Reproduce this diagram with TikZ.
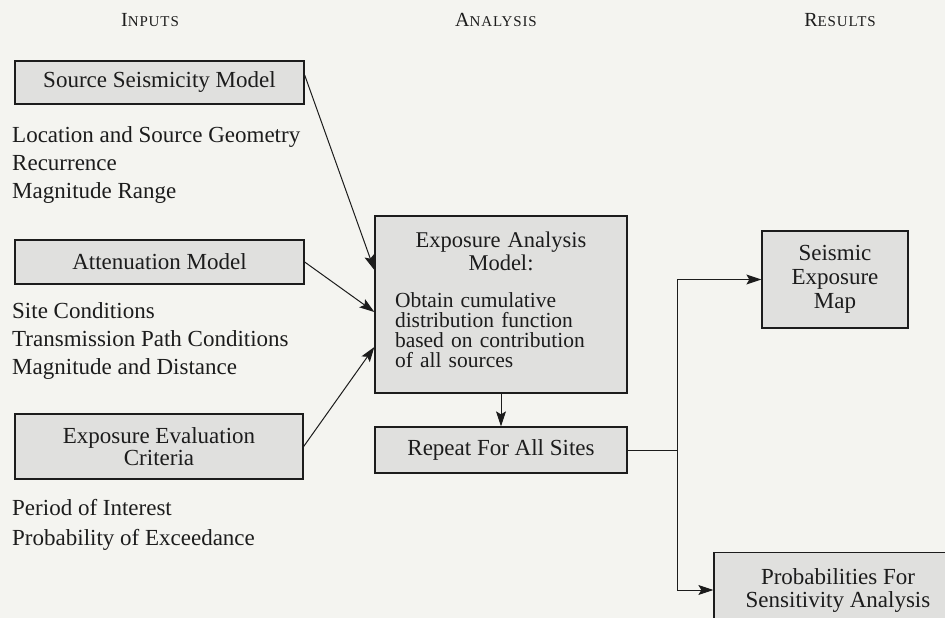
\documentclass[tikz,border=0pt]{standalone}
\usepackage{fontspec}
\setmainfont{Liberation Serif}
\usepackage{xcolor}
\usetikzlibrary{arrows.meta}
\usetikzlibrary{positioning}

\definecolor{paper}{HTML}{F4F4F0}
\definecolor{boxgray}{HTML}{E0E0DE}
\definecolor{ink}{HTML}{1C1C1C}
\newcommand{\headcaps}[2]{{\fontsize{20}{24}\selectfont #1}{\addfontfeatures{LetterSpace=6}\fontsize{15}{18}\selectfont #2}}

\begin{document}
\begin{tikzpicture}[
  x=1pt, y=-1pt,
  every node/.style={text=ink, font=\fontsize{23}{28}\selectfont},
  stage/.style={draw=ink, line width=1.3pt, fill=boxgray, align=center, inner sep=0pt},
  listing/.style={anchor=west, align=left, inner sep=0pt},
  heading/.style={inner sep=0pt},
  flow/.style={draw=ink, line width=1pt, -{Stealth[length=15pt,width=10pt,inset=3pt]}}
]
\useasboundingbox (0,0) rectangle (945,618);
\fill[paper] (0,0) rectangle (945,618);
\clip (0,0) rectangle (945,618);

% column headings
\node[heading] (hin) at (150,20) {\headcaps{I}{NPUTS}};
\node[heading] (han) at (496,20) {\headcaps{A}{NALYSIS}};
\node[heading] (hre) at (840,20) {\headcaps{R}{ESULTS}};

% inputs
\node[stage, minimum width=289pt, minimum height=43pt] (src) at (159.5,82.5) {Source Seismicity Model};
\node[listing] (srclist) at (12,165) {Location and Source Geometry\\Recurrence\\Magnitude Range};
\node[stage, minimum width=289pt, minimum height=44pt] (att) at (159.5,262) {Attenuation Model};
\node[listing] (attlist) at (12,341) {Site Conditions\\Transmission Path Conditions\\Magnitude and Distance};
\node[stage, minimum width=288pt, minimum height=65pt, font=\fontsize{23}{22}\selectfont] (crit) at (159,446.5) {Exposure Evaluation\\Criteria};
\node[listing, font=\fontsize{23}{30}\selectfont] (critlist) at (12,525) {Period of Interest\\Probability of Exceedance};

% analysis
\node[stage, minimum width=252pt, minimum height=177pt, text width=212pt, align=left,
  font=\fontsize{21.5}{20}\selectfont] (model) at (501,304.5)
  {{\centering\fontsize{22.5}{23}\selectfont Exposure Analysis\\Model:\par}\vspace{17pt}%
   Obtain cumulative\\distribution function\\based on contribution\\of all sources\par\vspace{9pt}};
\node[stage, minimum width=252pt, minimum height=46pt] (rep) at (501,450) {Repeat For All Sites};

% results
\node[stage, minimum width=146pt, minimum height=97pt, font=\fontsize{23}{24}\selectfont] (map) at (835,279.5) {Seismic\\Exposure\\Map};
\node[stage, minimum width=248pt, minimum height=75pt, font=\fontsize{23}{23}\selectfont] (prob) at (838,590) {Probabilities For\\Sensitivity Analysis};

% connectors
\draw[flow] ([yshift=7.5pt]src.east) -- ([yshift=34.5pt]model.west);
\draw[flow] (att.east) -- ([yshift=-7.5pt]model.west);
\draw[flow] (crit.east) -- ([yshift=-42.5pt]model.west);
\draw[flow] (model.south) -- (rep.north);
\coordinate (split) at (677,450);
\draw[draw=ink, line width=1pt] (rep.east) -- (split);
\draw[flow] (split) |- (map.west);
\draw[flow] (split) |- (prob.west);
\end{tikzpicture}
\end{document}
